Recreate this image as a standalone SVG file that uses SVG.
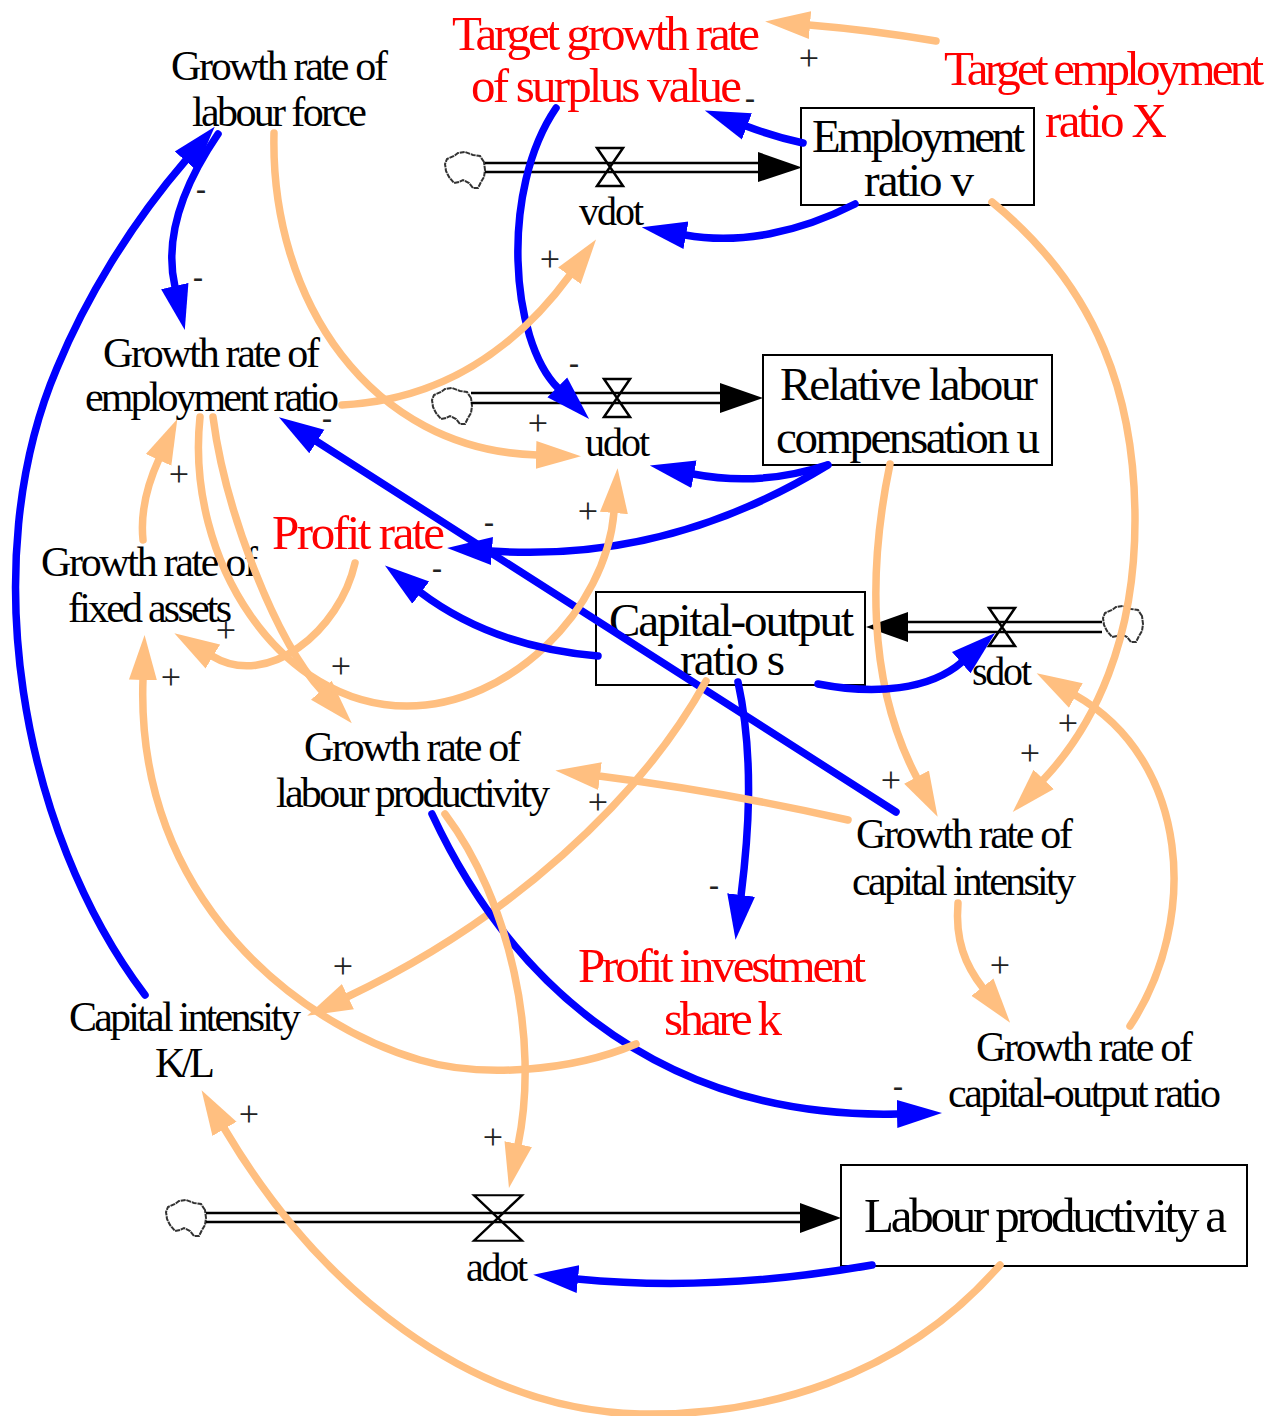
<svg xmlns="http://www.w3.org/2000/svg" width="1283" height="1416" viewBox="0 0 1283 1416">
<style>
text{font-family:"Liberation Serif","Times New Roman",serif;fill:#000}
.n{font-size:42px}.b{font-size:47px}.r{font-size:49px;fill:#f00}.s{font-size:40px}.g{font-size:36px;fill:#222;text-anchor:middle}.h{font-size:30px;font-weight:bold;fill:#222;text-anchor:middle}
.box{fill:#fff;stroke:#000;stroke-width:2}
.valve{fill:none;stroke:#000;stroke-width:2.5}
.pipe{fill:none;stroke:#000;stroke-width:2.5}
.c{fill:none;stroke-width:7.500;stroke-linecap:round}
.o{stroke:#ffbf80}.u{stroke:#00f}
.oa{marker-end:url(#ho)}.ua{marker-end:url(#hu)}
.cloud{fill:#fff;stroke:#333;stroke-width:2;stroke-dasharray:5 0.8}
</style>
<defs>
<marker id="ho" markerUnits="userSpaceOnUse" markerWidth="47" markerHeight="30" refX="1" refY="15" orient="auto"><path d="M0,1 L45,15 L0,29 Z" fill="#ffbf80"/></marker>
<marker id="hu" markerUnits="userSpaceOnUse" markerWidth="47" markerHeight="30" refX="1" refY="15" orient="auto"><path d="M0,1 L45,15 L0,29 Z" fill="#00f"/></marker>
<path id="cl" class="cloud" d="M39,10 L35,4 L28,3 L20,0 L13,1 L9,4 L2,7 L0,12 L1,19 L4,25 L9,31 L14,30 L18,28 L24,31 L28,36 L33,36 L36,30 L39,25 L40,18 Z"/>
<path id="vh" d="M-13,-19 H13 L-13,19 H13 Z" class="valve"/>
</defs>
<rect width="1283" height="1416" fill="#fff"/>

<g id="target-growth"><text class="r" x="452" y="50" textLength="308">Target growth rate</text><text class="r" x="471" y="102" textLength="271">of surplus value</text></g>
<g id="target-employment"><text class="r" x="944" y="85" textLength="320">Target employment</text><text class="r" x="1045" y="137" textLength="122">ratio X</text></g>
<g id="growth-labour-force"><text class="n" x="171" y="80" textLength="217">Growth rate of</text><text class="n" x="192" y="126" textLength="175">labour force</text></g>
<g id="employment-ratio"><rect class="box" x="801" y="108" width="233" height="97"/><text class="b" x="812" y="152" textLength="213">Employment</text><text class="b" x="864" y="196" textLength="110">ratio v</text></g>
<g id="vdot"><use href="#cl" x="445" y="152"/><use href="#vh" x="610" y="167"/><text class="s" x="579" y="225" textLength="65">vdot</text></g>
<g id="growth-employment"><text class="n" x="103" y="367" textLength="217">Growth rate of</text><text class="n" x="85" y="411" textLength="254">employment ratio</text></g>
<g id="relative-labour"><rect class="box" x="763" y="355" width="289" height="110"/><text class="b" x="780" y="400" textLength="258">Relative labour</text><text class="b" x="776" y="453" textLength="264">compensation u</text></g>
<g id="udot"><use href="#cl" x="432" y="388"/><use href="#vh" x="617" y="398"/><text class="s" x="585" y="456" textLength="65">udot</text></g>
<g id="profit-rate"><text class="r" x="272" y="549" textLength="173">Profit rate</text></g>
<g id="growth-fixed"><text class="n" x="41" y="576" textLength="217">Growth rate of</text><text class="n" x="68" y="622" textLength="164">fixed assets</text></g>
<g id="capital-output"><rect class="box" x="596" y="592" width="269" height="93"/><text class="b" x="609" y="636" textLength="245">Capital-output</text><text class="b" x="680" y="675" textLength="105">ratio s</text></g>
<g id="sdot"><use href="#cl" x="1103" y="606"/><use href="#vh" x="1002" y="627"/><text class="s" x="972" y="685" textLength="60">sdot</text></g>
<g id="growth-productivity"><text class="n" x="304" y="761" textLength="217">Growth rate of</text><text class="n" x="276" y="807" textLength="274">labour productivity</text></g>
<g id="growth-intensity"><text class="n" x="856" y="848" textLength="217">Growth rate of</text><text class="n" x="852" y="895" textLength="224">capital intensity</text></g>
<g id="profit-investment"><text class="r" x="578" y="982" textLength="288">Profit investment</text><text class="r" x="664" y="1035" textLength="118">share k</text></g>
<g id="capital-intensity"><text class="n" x="69" y="1031" textLength="232">Capital intensity</text><text class="n" x="155" y="1077" textLength="60">K/L</text></g>
<g id="growth-capital-output"><text class="n" x="976" y="1061" textLength="217">Growth rate of</text><text class="n" x="948" y="1107" textLength="273">capital-output ratio</text></g>
<g id="labour-productivity"><rect class="box" x="841" y="1165" width="406" height="101"/><text class="b" style="font-size:49px" x="864" y="1232" textLength="363">Labour productivity a</text></g>
<g id="adot"><use href="#cl" x="166" y="1200"/><g transform="translate(498,1218) scale(1.85,1.2)"><path d="M-13,-19 H13 L-13,19 H13 Z" fill="none" stroke="#000" stroke-width="1.6"/></g><text class="s" x="466" y="1281" textLength="62">adot</text></g>

<g id="signs">
<text class="g" x="809" y="70">+</text><text class="h" x="750" y="108">-</text><text class="h" x="201" y="199">-</text><text class="h" x="198" y="287">-</text><text class="g" x="550" y="271">+</text><text class="h" x="574" y="373">-</text><text class="g" x="538" y="435">+</text><text class="h" x="327" y="428">-</text><text class="g" x="179" y="486">+</text><text class="h" x="489" y="532">-</text><text class="g" x="588" y="523">+</text><text class="h" x="437" y="578">-</text><text class="g" x="226" y="642">+</text><text class="g" x="341" y="678">+</text><text class="g" x="171" y="689">+</text><text class="g" x="598" y="814">+</text><text class="g" x="891" y="792">+</text><text class="g" x="1068" y="735">+</text><text class="g" x="1030" y="765">+</text><text class="h" x="714" y="895">-</text><text class="g" x="1000" y="977">+</text><text class="g" x="343" y="978">+</text><text class="g" x="493" y="1149">+</text><text class="g" x="249" y="1126">+</text><text class="h" x="898" y="1096">-</text>
</g>

<g id="connectors">
<g id="flows">
<path class="pipe" d="M485,163 H760 M485,172 H760"/><path d="M758,152 L802,167.500 L758,182 Z"/>
<path class="pipe" d="M471,393 H722 M471,403 H722"/><path d="M720,383 L763,398 L720,413 Z"/>
<path class="pipe" d="M1102,622 H906 M1102,632 H906"/><path d="M908,612 L866,627 L908,642 Z"/>
<path class="pipe" d="M206,1213 H802 M206,1222 H802"/><path d="M800,1203 L841,1218 L800,1233 Z"/>
</g>
<path class="c o oa" d="M936,41 Q870,30 809,25"/>
<path class="c u ua" d="M803,143 Q775,137 746,126"/>
<path class="c u ua" d="M556,108 C500,190 510,340 558,388"/>
<path class="c u ua" d="M855,204 C800,232 740,245 685,235"/>
<path class="c o oa" d="M342,405 C440,400 515,350 570,275"/>
<path class="c o oa" d="M992,202 C1100,290 1135,400 1135,520 C1135,640 1095,725 1043,780"/>
<path class="c u ua" d="M218,134 C190,175 162,230 175,287"/>
<path class="c o oa" d="M274,133 C270,300 370,450 537,455"/>
<path class="c u ua" d="M827,465 Q760,487 693,474"/>
<path class="c u ua" d="M828,465 C730,525 620,560 491,551"/>
<path class="c o oa" d="M890,464 C870,560 865,680 917,778"/>
<path class="c u ua" d="M896,812 L316,441"/>
<path class="c o oa" d="M213,417 C225,510 275,640 322,691"/>
<path class="c o oa" d="M200,417 C185,560 280,706 407,706 C510,706 606,610 614,512"/>
<path class="c o oa" d="M143,540 C140,510 148,483 159,459"/>
<path class="c o oa" d="M355,563 C340,630 268,690 212,656"/>
<path class="c u ua" d="M598,656 C530,650 470,630 420,592"/>
<path class="c u ua" d="M818,684 C875,695 930,690 962,662"/>
<path class="c o oa" d="M1130,1026 C1200,920 1190,760 1075,695"/>
<path class="c u ua" d="M738,682 C755,760 748,840 741,896"/>
<path class="c o oa" d="M706,681 C640,800 510,920 347,997"/>
<path class="c o oa" d="M848,820 C760,800 670,785 599,776"/>
<path class="c o oa" d="M958,903 C955,940 965,965 983,988"/>
<path class="c u ua" d="M432,814 C500,960 640,1120 898,1114"/>
<path class="c o oa" d="M445,814 C510,900 540,1040 518,1145"/>
<path class="c o oa" d="M636,1044 C570,1072 480,1078 420,1060 C300,1025 135,900 143,679"/>
<path class="c u ua" d="M872,1265 C770,1283 670,1288 577,1279"/>
<path class="c o oa" d="M1000,1265 C900,1380 760,1416 640,1414 C470,1410 320,1290 224,1128"/>
<path class="c u ua" d="M145,995 C20,830 -25,560 57,368 C85,300 130,225 186,160"/>
</g>
</svg>
